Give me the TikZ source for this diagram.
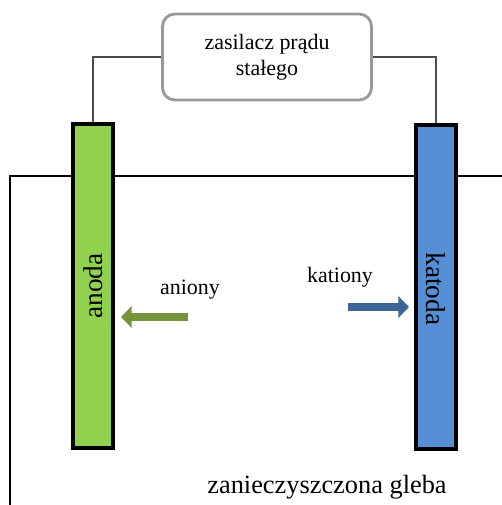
\documentclass[tikz,border=0pt]{standalone}
\usepackage{fontspec}
\setmainfont{Liberation Serif}
\usetikzlibrary{arrows.meta}
\definecolor{anodegreen}{HTML}{92D050}
\definecolor{cathodeblue}{HTML}{558ED5}
\definecolor{anionarrow}{HTML}{77933C}
\definecolor{cationarrow}{HTML}{3C6496}
\begin{document}
\begin{tikzpicture}[
    x=0.02cm, y=-0.02cm,
    % === STYLE ===
    supply box/.style={draw=black!40, line width=1.6pt, rounded corners=7pt, fill=white,
        minimum width=4.18cm, minimum height=1.72cm, align=center, font=\fontsize{12.5}{15}\selectfont},
    electrode/.style={draw=black, line width=1.8pt, minimum width=0.8cm, minimum height=6.48cm, inner sep=0pt},
    wire/.style={black!70, line width=0.6pt},
    soil line/.style={black, line width=0.6pt},
    ion label/.style={font=\fontsize{12.5}{15}\selectfont},
    ion arrow/.style={line width=4pt, -{Triangle[length=6pt, width=12pt]}},
]
    \useasboundingbox (0,0) rectangle (502,505);

    % === GLEBA ===
    \coordinate (S1) at (10,505);
    \coordinate (S2) at (10,176);
    \coordinate (S3) at (502,176);
    \draw[soil line] (S1) -- (S2) -- (S3);

    % === ZASILACZ ===
    \node[supply box] (zasilacz) at (267,57) {zasilacz prądu\\stałego};

    % === ELEKTRODY ===
    \node[electrode, fill=anodegreen] (anoda) at (93,286) {};
    \node[electrode, fill=cathodeblue] (katoda) at (436,287) {};
    \node[rotate=90, font=\fontsize{15.5}{18}\selectfont] at (anoda.center) {anoda};
    \node[rotate=-90, font=\fontsize{15.5}{18}\selectfont] at ([yshift=-0.04cm]katoda.center) {katoda};

    % === PRZEWODY ===
    \draw[wire] (zasilacz.west) -| (anoda.north);
    \draw[wire] (zasilacz.east) -| (katoda.north);

    % === JONY ===
    \coordinate (A1) at (188,317);
    \coordinate (A2) at (121,317);
    \coordinate (K1) at (348,307);
    \coordinate (K2) at (409,307);
    \draw[ion arrow, anionarrow] (A1) -- (A2);
    \draw[ion arrow, cationarrow] (K1) -- (K2);
    \node[ion label] (aniony) at (190,290) {aniony};
    \node[ion label] (kationy) at (340,277) {kationy};

    % === NAPIS ===
    \node[font=\fontsize{15}{18}\selectfont] (gleba) at (327,487) {zanieczyszczona gleba};

\end{tikzpicture}
\end{document}
